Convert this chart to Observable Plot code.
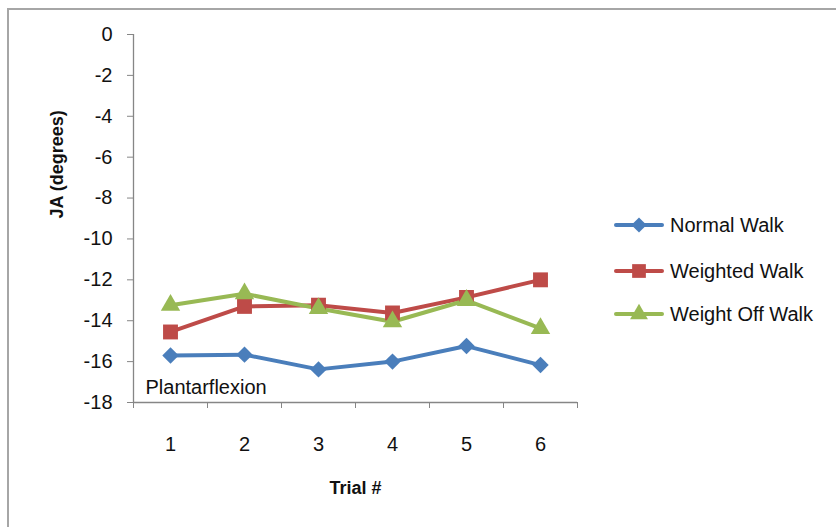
<!DOCTYPE html>
<html>
<head>
<meta charset="utf-8">
<script src="https://cdn.jsdelivr.net/npm/d3@7"></script>
<script src="https://cdn.jsdelivr.net/npm/@observablehq/plot@0.6"></script>
<style>
  html, body { margin: 0; padding: 0; background: #fff; }
  #wrap { position: relative; width: 836px; height: 527px; overflow: hidden; font-family: "Liberation Sans", Arial, sans-serif; }
  #border { position: absolute; left: 7px; top: 8px; right: -4px; bottom: -4px; border-left: 2px solid #a6a6a6; border-top: 2px solid #a6a6a6; pointer-events: none; }
  #legend { position: absolute; left: 614px; top: 0; }
  .row { position: absolute; left: 0; display: flex; align-items: center; white-space: nowrap; font-size: 20px; color: #111; }
  .row svg { display: block; margin-right: 6px; }
</style>
</head>
<body>
<div id="wrap">
  <div id="chart"></div>
  <div id="border"></div>
  <div id="legend"></div>
</div>
<script>
const trials = [1, 2, 3, 4, 5, 6];
const seriesNames = ["Normal Walk", "Weighted Walk", "Weight Off Walk"];
const normalWalk = [-15.70, -15.66, -16.38, -16.00, -15.24, -16.17];
const weightedWalk = [-14.55, -13.30, -13.24, -13.62, -12.86, -12.00];
const weightOffWalk = [-13.24, -12.68, -13.40, -14.05, -13.00, -14.38];
const yTicks = [0, -2, -4, -6, -8, -10, -12, -14, -16, -18];
const yDomain = [-18, 0];
const colors = ["#4A7EBB", "#BE4B48", "#98B954"];
const symbols = ["diamond2", "square", "triangle"];
const radii = [7.4, 8.4, 7.2];

const valuesBySeries = [normalWalk, weightedWalk, weightOffWalk];
const data = [];
seriesNames.forEach((s, i) => trials.forEach((t, j) => data.push({series: s, trial: t, value: valuesBySeries[i][j]})));

const xDomain = [trials[0] - 0.5, trials[trials.length - 1] + 0.5];
const xBoundaries = [...trials.map(t => t - 0.5), trials[trials.length - 1] + 0.5];
const axisColor = "#868686";

const marks = [
  Plot.ruleX([xDomain[0]], {stroke: axisColor, strokeWidth: 1.3}),
  Plot.ruleY([yDomain[0]], {stroke: axisColor, strokeWidth: 1.3}),
  Plot.axisY({ticks: yTicks, tickSize: 6, tickPadding: 15, tickFormat: d => String(d), stroke: axisColor, fill: "#111", fontSize: 20, label: null}),
  Plot.axisX({ticks: xBoundaries, tickSize: 6, tickFormat: () => "", stroke: axisColor, label: null}),
  Plot.axisX({ticks: trials, tickSize: 0, tickPadding: 34, tickFormat: d => String(d), fill: "#111", fontSize: 20, label: null}),
  Plot.text(["JA (degrees)"], {frameAnchor: "left", rotate: -90, dx: -76, fontSize: 18, fontWeight: "bold", fill: "#111"}),
  Plot.text(["Trial #"], {frameAnchor: "bottom", dy: 91, fontSize: 18, fontWeight: "bold", fill: "#111"}),
  Plot.text(["Plantarflexion"], {frameAnchor: "bottom-left", dx: 12, dy: -9, textAnchor: "start", fontSize: 20, fill: "#111"})
];
seriesNames.forEach((s, i) => {
  const d = data.filter(r => r.series === s);
  marks.push(Plot.line(d, {x: "trial", y: "value", stroke: colors[i], strokeWidth: 4, strokeLinejoin: "round"}));
});
seriesNames.forEach((s, i) => {
  const d = data.filter(r => r.series === s);
  marks.push(Plot.dot(d, {x: "trial", y: "value", symbol: () => symbols[i], r: radii[i], fill: colors[i], stroke: "none"}));
});

const chart = Plot.plot({
  width: 836,
  height: 527,
  marginLeft: 133,
  marginRight: 259,
  marginTop: 34,
  marginBottom: 125,
  style: {fontFamily: '"Liberation Sans", Arial, sans-serif', background: "transparent", overflow: "visible"},
  x: {type: "linear", domain: xDomain, axis: null},
  y: {type: "linear", domain: yDomain, axis: null},
  symbol: {type: "identity"},
  marks
});
document.getElementById("chart").appendChild(chart);

// Legend
const legend = document.getElementById("legend");
const rowY = [225, 271, 314];
seriesNames.forEach((s, i) => {
  const row = document.createElement("div");
  row.className = "row";
  row.style.top = (rowY[i] - 14) + "px";
  const svg = d3.create("svg").attr("width", 50).attr("height", 28);
  svg.append("line").attr("x1", 2).attr("x2", 48).attr("y1", 14).attr("y2", 14)
     .attr("stroke", colors[i]).attr("stroke-width", 4).attr("stroke-linecap", "round");
  const symMap = {diamond2: d3.symbolDiamond2, square: d3.symbolSquare, triangle: d3.symbolTriangle};
  svg.append("path").attr("transform", "translate(25,14)")
     .attr("d", d3.symbol(symMap[symbols[i]], Math.PI * radii[i] * radii[i] * 0.85)())
     .attr("fill", colors[i]);
  row.appendChild(svg.node());
  const label = document.createElement("span");
  label.textContent = s;
  row.appendChild(label);
  legend.appendChild(row);
});
</script>
</body>
</html>
